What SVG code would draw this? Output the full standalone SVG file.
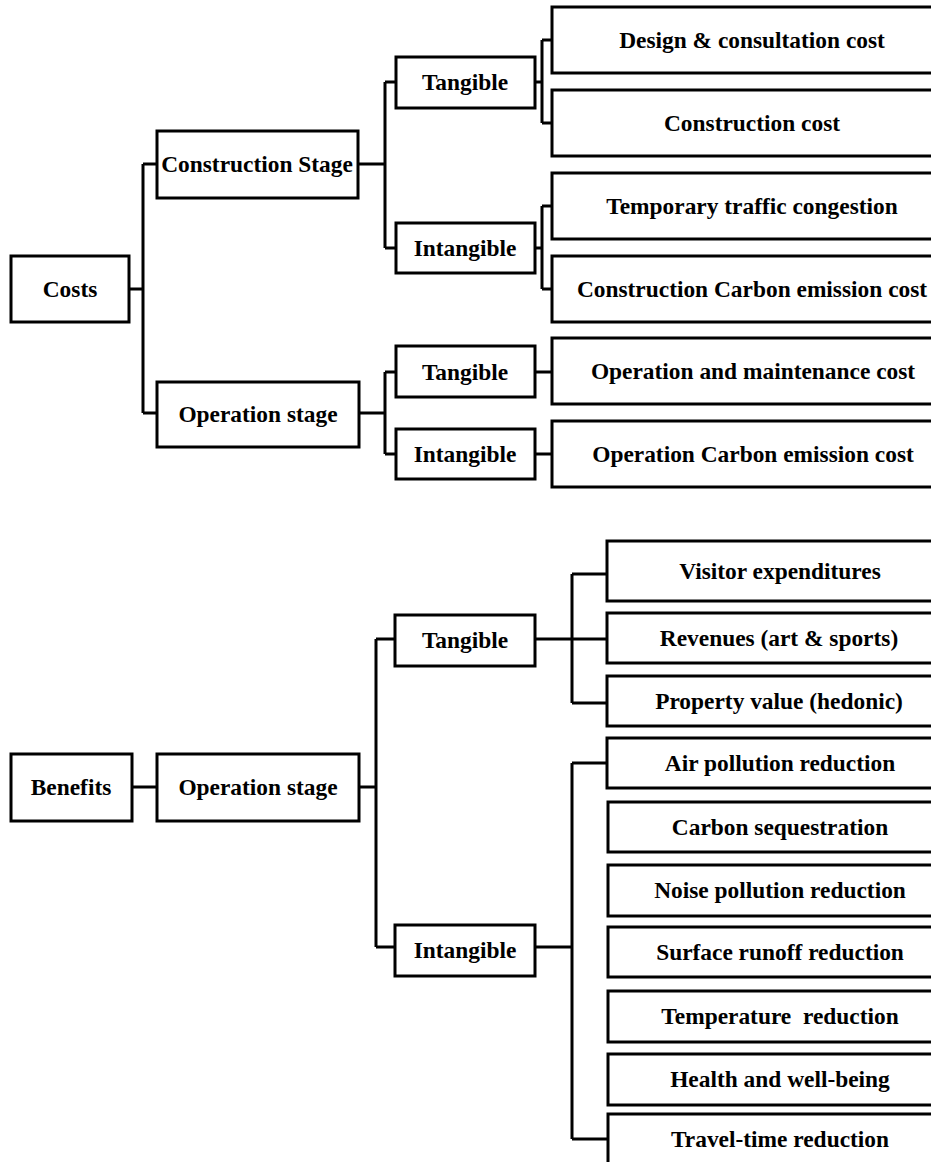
<svg xmlns="http://www.w3.org/2000/svg" width="931" height="1162" viewBox="0 0 931 1162">
<style>
rect{fill:#fff;stroke:#000;stroke-width:3}
text{font-family:"Liberation Serif","Times New Roman",serif;font-weight:bold;font-size:23.4px;fill:#000;text-anchor:middle}
.c path{fill:none;stroke:#000;stroke-width:3}
</style>
<rect x="0" y="0" width="931" height="1162" style="stroke:none"/>
<g class="c" id="connectors">
<path d="M129,289H143M143,164V413M143,164H157M143,413H157"/>
<path d="M358,164H385M385,82V248M385,82H396M385,248H396"/>
<path d="M535,82H542M542,40V123M542,40H552M542,123H552"/>
<path d="M535,248H542M542,206V289M542,206H552M542,289H552"/>
<path d="M359,413H385M385,372V454M385,372H396M385,454H396"/>
<path d="M535,372H552M535,454H552"/>
<path d="M132,787H157M359,787H376M376,639V947M376,639H395M376,947H395"/>
<path d="M535,639H607M572,574V703M572,574H607M572,703H607"/>
<path d="M535,947H572M572,763V1139M572,763H607M572,1139H607"/>
</g>
<g id="costs"><rect x="11" y="256" width="118" height="66"/><text x="70" y="297">Costs</text></g>
<g id="c-construction"><rect x="157" y="131" width="201" height="67"/><text x="257" y="172">Construction Stage</text></g>
<g id="c-tangible"><rect x="396" y="57" width="139" height="51"/><text x="465" y="90">Tangible</text></g>
<g id="c-intangible"><rect x="396" y="223" width="139" height="50"/><text x="465" y="256">Intangible</text></g>
<g id="design"><rect x="552" y="7" width="400" height="66"/><text x="752" y="48">Design &amp; consultation cost</text></g>
<g id="construction-cost"><rect x="552" y="90" width="400" height="66"/><text x="752" y="131">Construction cost</text></g>
<g id="traffic"><rect x="552" y="173" width="400" height="66"/><text x="752" y="214">Temporary traffic congestion</text></g>
<g id="c-carbon"><rect x="552" y="256" width="400" height="66"/><text x="752" y="297">Construction Carbon emission cost</text></g>
<g id="c-operation"><rect x="157" y="382" width="202" height="65"/><text x="258" y="422">Operation stage</text></g>
<g id="o-tangible"><rect x="396" y="346" width="139" height="51"/><text x="465" y="380">Tangible</text></g>
<g id="o-intangible"><rect x="396" y="429" width="139" height="50"/><text x="465" y="462">Intangible</text></g>
<g id="om"><rect x="552" y="338" width="400" height="66"/><text x="753" y="379">Operation and maintenance cost</text></g>
<g id="o-carbon"><rect x="552" y="421" width="400" height="66"/><text x="753" y="462">Operation Carbon emission cost</text></g>
<g id="benefits"><rect x="11" y="754" width="121" height="67"/><text x="71" y="795">Benefits</text></g>
<g id="b-operation"><rect x="157" y="754" width="202" height="67"/><text x="258" y="795">Operation stage</text></g>
<g id="b-tangible"><rect x="395" y="615" width="140" height="51"/><text x="465" y="648">Tangible</text></g>
<g id="b-intangible"><rect x="395" y="925" width="140" height="51"/><text x="465" y="958">Intangible</text></g>
<g id="visitor"><rect x="607" y="541" width="344" height="60"/><text x="780" y="579">Visitor expenditures</text></g>
<g id="revenues"><rect x="607" y="613" width="344" height="50"/><text x="779" y="646">Revenues (art &amp; sports)</text></g>
<g id="property"><rect x="607" y="676" width="344" height="50"/><text x="779" y="709">Property value (hedonic)</text></g>
<g id="air"><rect x="607" y="738" width="344" height="50"/><text x="780" y="771">Air pollution reduction</text></g>
<g id="carbon-seq"><rect x="608" y="802" width="343" height="50"/><text x="780" y="835">Carbon sequestration</text></g>
<g id="noise"><rect x="608" y="865" width="343" height="51"/><text x="780" y="898">Noise pollution reduction</text></g>
<g id="runoff"><rect x="608" y="927" width="343" height="50"/><text x="780" y="960">Surface runoff reduction</text></g>
<g id="temperature"><rect x="608" y="991" width="343" height="51"/><text x="780" y="1024" xml:space="preserve">Temperature  reduction</text></g>
<g id="health"><rect x="608" y="1054" width="343" height="51"/><text x="780" y="1087">Health and well-being</text></g>
<g id="travel"><rect x="608" y="1114" width="343" height="60"/><text x="780" y="1147">Travel-time reduction</text></g>
</svg>
